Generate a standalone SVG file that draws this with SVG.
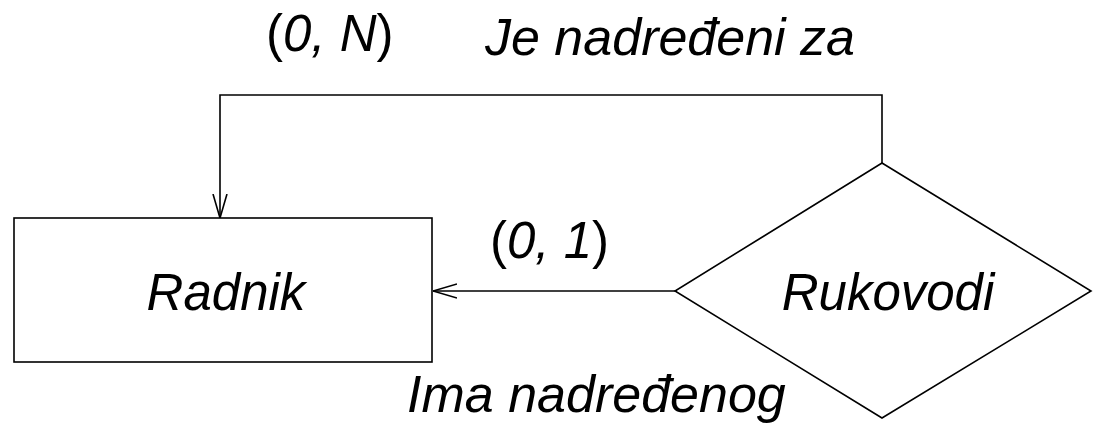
<svg xmlns="http://www.w3.org/2000/svg" width="1095" height="423" viewBox="0 0 1095 423">
<style>
text{font-family:"Liberation Sans",Arial,sans-serif;font-size:51px;fill:#000}
.i{font-style:italic}
.big{font-size:52px}
.shape{fill:#fff;stroke:#000;stroke-width:1.6}
.conn{fill:none;stroke:#000;stroke-width:1.6}
</style>
<defs>
<marker id="arr" viewBox="0 0 24 16" refX="24" refY="8" markerWidth="24" markerHeight="16" markerUnits="userSpaceOnUse" orient="auto">
<path d="M0,1 L24,8 L0,15" fill="none" stroke="#000" stroke-width="1.6"/>
</marker>
</defs>
<rect width="1095" height="423" fill="#fff"/>
<g id="connectors">
<path class="conn" d="M882,163 V95 H220 V218" marker-end="url(#arr)"/>
<path class="conn" d="M675,291 H433" marker-end="url(#arr)"/>
</g>
<g id="radnik">
<rect class="shape" x="14" y="218" width="418" height="144"/>
<text class="i" x="226" y="310" text-anchor="middle">Radnik</text>
</g>
<g id="rukovodi">
<polygon class="shape" points="882,163 1091,291 882,418 675,291"/>
<text class="i" x="888" y="310" text-anchor="middle">Rukovodi</text>
</g>
<g id="labels">
<text x="266" y="51">(<tspan class="i">0, N</tspan>)</text>
<text class="i big" x="485" y="55">Je nadređeni za</text>
<text x="490" y="258">(<tspan class="i">0, 1</tspan>)</text>
<text class="i big" x="407" y="412">Ima nadređenog</text>
</g>
</svg>
